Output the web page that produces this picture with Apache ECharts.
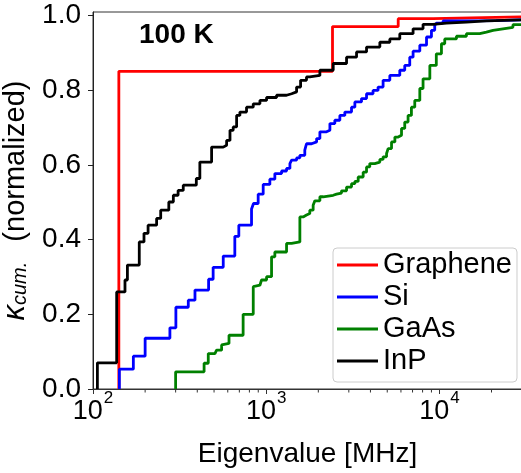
<!DOCTYPE html>
<html><head><meta charset="utf-8">
<script src="https://cdn.jsdelivr.net/npm/echarts@6/dist/echarts.min.js"></script>
<style>html,body{margin:0;padding:0;background:#fff}#c{width:521px;height:473px}</style>
</head><body><div id="c"></div>
<script>
const seriesNames = ['Graphene', 'Si', 'GaAs', 'InP'];
const seriesColors = ['#ff0000', '#0000ff', '#008000', '#000000'];

const grapheneX = [141, 141, 2415, 5785, 9194, 30000];
const grapheneY = [0, 0.851, 0.971, 0.992, 0.997, 0.998];

const siX = [142, 142, 171, 200, 278, 301, 355, 388, 465, 494, 565, 659, 695, 823, 845, 899, 961, 1050, 1122, 1227, 1311, 1371, 1402, 1498, 1565, 1671, 1709, 1829, 1955, 2042, 2230, 2333, 2491, 2663, 2845, 3110, 3251, 3551, 3797, 4140, 4426, 4732, 5175, 5908, 6310, 6745, 7051, 7710, 8430, 9000, 9400, 9600, 10500, 14330, 21300, 30000];
const siY = [0, 0.053, 0.088, 0.136, 0.164, 0.219, 0.238, 0.265, 0.294, 0.326, 0.356, 0.409, 0.439, 0.482, 0.497, 0.522, 0.548, 0.562, 0.577, 0.584, 0.591, 0.604, 0.613, 0.619, 0.626, 0.640, 0.657, 0.662, 0.671, 0.689, 0.693, 0.711, 0.720, 0.733, 0.742, 0.755, 0.769, 0.778, 0.791, 0.800, 0.809, 0.827, 0.840, 0.854, 0.867, 0.889, 0.905, 0.921, 0.943, 0.961, 0.974, 0.980, 0.986, 0.987, 0.989, 0.991];

const gaasX = [300, 300, 438, 463, 506, 517, 553, 565, 610, 736, 842, 861, 920, 940, 1005, 1074, 1122, 1311, 1402, 1565, 1635, 1709, 1786, 1867, 1910, 2042, 2134, 2438, 2548, 2722, 2911, 3110, 3251, 3398, 3631, 3797, 3963, 4236, 4532, 4732, 4955, 5060, 5294, 5535, 5785, 6045, 6310, 6596, 6897, 7210, 7710, 8050, 8810, 9600, 10280, 10740, 12550, 14330, 17100, 18690, 20400, 23300, 26600, 30000];
const gaasY = [0, 0.046, 0.069, 0.095, 0.100, 0.104, 0.118, 0.122, 0.144, 0.200, 0.274, 0.278, 0.283, 0.292, 0.301, 0.354, 0.367, 0.390, 0.394, 0.461, 0.466, 0.470, 0.479, 0.492, 0.504, 0.515, 0.519, 0.522, 0.525, 0.531, 0.541, 0.550, 0.556, 0.568, 0.581, 0.595, 0.604, 0.608, 0.615, 0.622, 0.631, 0.644, 0.662, 0.675, 0.680, 0.698, 0.715, 0.733, 0.755, 0.773, 0.805, 0.831, 0.867, 0.898, 0.925, 0.938, 0.945, 0.952, 0.956, 0.961, 0.965, 0.969, 0.976, 0.979];

const inpX = [106, 106, 137, 153, 158, 185, 197, 208, 233, 246, 274, 291, 310, 332, 395, 414, 484, 565, 591, 618, 645, 675, 705, 770, 842, 920, 1005, 1148, 1311, 1402, 1498, 1580, 1709, 1786, 2042, 2438, 2911, 3325, 3797, 4532, 5175, 5908, 7051, 8050, 9194, 10990, 14330, 18690, 30000];
const inpY = [0, 0.070, 0.260, 0.292, 0.332, 0.394, 0.417, 0.439, 0.457, 0.479, 0.501, 0.519, 0.532, 0.546, 0.564, 0.608, 0.648, 0.653, 0.666, 0.693, 0.702, 0.733, 0.742, 0.755, 0.764, 0.773, 0.781, 0.787, 0.791, 0.796, 0.809, 0.827, 0.836, 0.840, 0.854, 0.872, 0.889, 0.903, 0.916, 0.929, 0.938, 0.952, 0.965, 0.977, 0.980, 0.983, 0.986, 0.989, 0.992];

const xMajorTicks = [100, 1000, 10000];
const xMinorTicks = [200, 300, 400, 500, 600, 700, 800, 900, 2000, 3000, 4000, 5000, 6000, 7000, 8000, 9000, 20000];
const yTicks = [0, 0.2, 0.4, 0.6, 0.8, 1.0];
const xRange = [100, 30000];
const yRange = [0, 1.01];

const FONT = 'Liberation Sans, Arial, sans-serif';
const zip = (xs, ys) => xs.map((x, i) => [x, ys[i]]);
const allX = [grapheneX, siX, gaasX, inpX];
const allY = [grapheneY, siY, gaasY, inpY];

const chart = echarts.init(document.getElementById('c'), null, {renderer: 'canvas'});

const lineSeries = seriesNames.map((name, i) => ({
  name: name,
  type: 'line',
  step: 'end',
  data: zip(allX[i], allY[i]),
  symbol: 'none',
  showSymbol: false,
  lineStyle: {color: seriesColors[i], width: 2.8},
  itemStyle: {color: seriesColors[i]},
  emphasis: {disabled: true},
  z: 3 + i
}));

const minorTickSeries = {
  type: 'custom',
  silent: true,
  clip: false,
  z: 10,
  data: xMinorTicks.map(v => [v, 0]),
  encode: {x: 0, y: 1},
  renderItem: function (params, api) {
    const p = api.coord([api.value(0), api.value(1)]);
    return {
      type: 'line',
      shape: {x1: p[0], y1: p[1], x2: p[0], y2: p[1] + 3.5},
      style: {stroke: '#333', lineWidth: 1}
    };
  }
};

const isMajor = v => xMajorTicks.some(t => Math.abs(t - v) / t < 1e-6);

chart.setOption({
  animation: false,
  backgroundColor: '#fff',
  textStyle: {fontFamily: FONT},
  title: {
    text: '100 K',
    left: 139,
    top: 20,
    padding: 0,
    textStyle: {fontFamily: FONT, fontSize: 28, fontWeight: 'bold', color: '#000', lineHeight: 30}
  },
  grid: {
    left: 93, top: 12, right: -1, bottom: 84,
    show: true, borderColor: '#333', borderWidth: 1, backgroundColor: 'transparent',
    containLabel: false,
    outerBoundsMode: 'none'
  },
  legend: {
    orient: 'vertical',
    left: 333,
    top: 248,
    padding: [2, 5, 6, 4],
    itemGap: 2,
    itemWidth: 41,
    itemHeight: 3,
    icon: 'rect',
    backgroundColor: '#fff',
    borderColor: '#cccccc',
    borderWidth: 1,
    borderRadius: 4,
    selectedMode: false,
    data: seriesNames.map((n, i) => ({name: n, icon: 'rect', itemStyle: {color: seriesColors[i]}})),
    textStyle: {fontFamily: FONT, fontSize: 29, color: '#000', lineHeight: 30, padding: [0, 0, 0, 0]}
  },
  xAxis: {
    type: 'log',
    min: xRange[0],
    max: xRange[1],
    logBase: 10,
    name: 'Eigenvalue [MHz]',
    nameLocation: 'middle',
    nameGap: 48,
    nameTextStyle: {fontFamily: FONT, fontSize: 28, color: '#000', lineHeight: 30},
    axisLine: {show: true, lineStyle: {color: '#333', width: 1}},
    axisTick: {show: true, inside: false, length: 5, lineStyle: {color: '#333', width: 1}},
    splitLine: {show: false},
    minorTick: {show: false},
    axisLabel: {
      margin: 8,
      color: '#000',
      formatter: function (v) {
        if (!isMajor(v)) return '';
        return '{b|10}{s|' + Math.round(Math.log10(v)) + '}';
      },
      rich: {
        b: {fontFamily: FONT, fontSize: 27, color: '#000', lineHeight: 30},
        s: {fontFamily: FONT, fontSize: 17, color: '#000', lineHeight: 17, padding: [0, 0, 28, 1]}
      }
    }
  },
  yAxis: {
    type: 'value',
    min: yRange[0],
    max: yRange[1],
    interval: 0.2,
    name: '{k|κ}{c|cum.}{g| }(normalized)',
    nameLocation: 'middle',
    nameGap: 58,
    nameTextStyle: {
      fontFamily: FONT, fontSize: 29, color: '#000', lineHeight: 30,
      rich: {
        k: {fontFamily: FONT, fontSize: 31, fontStyle: 'italic', color: '#000', lineHeight: 30},
        c: {fontFamily: FONT, fontSize: 20, fontStyle: 'italic', color: '#000', lineHeight: 18, verticalAlign: 'bottom'},
        g: {width: 20, lineHeight: 30}
      }
    },
    axisLine: {show: true, lineStyle: {color: '#222', width: 1}},
    axisTick: {show: true, inside: false, length: 5, customValues: yTicks, lineStyle: {color: '#222', width: 1}},
    splitLine: {show: false},
    axisLabel: {
      margin: 12,
      color: '#000',
      fontFamily: FONT,
      fontSize: 28,
      customValues: yTicks,
      formatter: v => v.toFixed(1)
    }
  },
  series: lineSeries.concat([minorTickSeries])
});
</script>
</body></html>
